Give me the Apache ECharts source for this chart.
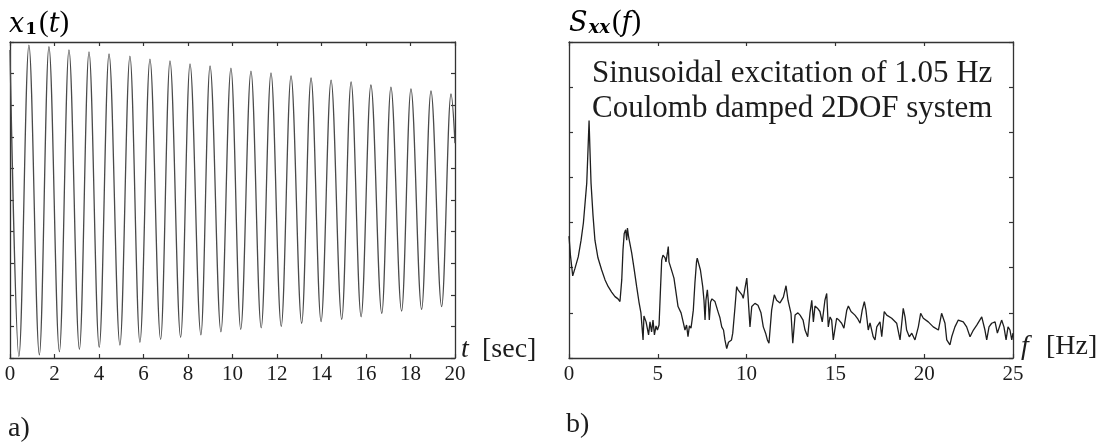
<!DOCTYPE html>
<html>
<head>
<meta charset="utf-8">
<script src="https://cdn.jsdelivr.net/npm/echarts@6/dist/echarts.min.js"></script>
<style>
html,body{margin:0;padding:0;background:#fff;}
#chart{width:1098px;height:446px;}
</style>
</head>
<body>
<div id="chart"></div>
<script>
// ---- Panel a) : x1(t), extrema (time in s, normalised displacement)
var x1Time = [0.00, 0.40, 0.85, 1.32, 1.75, 2.22, 2.65, 3.12, 3.55, 4.01, 4.45, 4.94, 5.39, 5.84, 6.29, 6.77, 7.19, 7.67, 8.09, 8.58, 8.99, 9.48, 9.93, 10.37, 10.83, 11.29, 11.73, 12.19, 12.63, 13.11, 13.53, 13.98, 14.43, 14.91, 15.33, 15.78, 16.22, 16.71, 17.12, 17.60, 18.02, 18.50, 18.92, 19.40, 19.82, 20.00];
var x1Value = [0.95, -0.99, 0.98, -0.98, 0.97, -0.96, 0.95, -0.945, 0.937, -0.932, 0.924, -0.918, 0.911, -0.901, 0.892, -0.882, 0.880, -0.869, 0.861, -0.854, 0.848, -0.834, 0.835, -0.818, 0.816, -0.809, 0.804, -0.80, 0.785, -0.780, 0.772, -0.770, 0.759, -0.755, 0.747, -0.739, 0.728, -0.717, 0.715, -0.703, 0.703, -0.692, 0.690, -0.675, 0.671, 0.36];
var timeTicks = {min: 0, max: 20, interval: 2};

// ---- Panel b) : S_xx(f) (frequency in Hz, level in axis units 0..7)
var sxxFreq = [0.00, 0.08, 0.21, 0.34, 0.52, 0.68, 0.81, 1.00, 1.07, 1.13, 1.18, 1.24, 1.35, 1.46, 1.63, 1.84, 2.03, 2.21, 2.40, 2.59, 2.76, 2.87, 2.97, 3.04, 3.11, 3.19, 3.25, 3.29, 3.35, 3.53, 3.66, 3.81, 3.94, 4.05, 4.17, 4.22, 4.34, 4.42, 4.48, 4.56, 4.65, 4.73, 4.81, 4.90, 4.98, 5.07, 5.15, 5.22, 5.29, 5.41, 5.46, 5.55, 5.59, 5.63, 5.74, 5.91, 6.14, 6.31, 6.44, 6.53, 6.62, 6.70, 6.78, 6.87, 6.93, 7.00, 7.09, 7.18, 7.22, 7.32, 7.40, 7.53, 7.60, 7.66, 7.71, 7.79, 7.84, 7.90, 7.97, 8.05, 8.22, 8.41, 8.50, 8.60, 8.70, 8.78, 8.88, 8.98, 9.07, 9.15, 9.22, 9.35, 9.44, 9.52, 9.63, 9.74, 9.81, 9.91, 10.01, 10.08, 10.19, 10.29, 10.47, 10.64, 10.81, 10.94, 11.07, 11.17, 11.26, 11.41, 11.56, 11.69, 11.88, 12.07, 12.22, 12.33, 12.50, 12.60, 12.73, 12.89, 13.01, 13.18, 13.29, 13.44, 13.57, 13.67, 13.76, 13.85, 14.02, 14.13, 14.26, 14.41, 14.51, 14.60, 14.70, 14.79, 14.88, 15.07, 15.20, 15.35, 15.48, 15.64, 15.73, 15.88, 16.10, 16.27, 16.39, 16.51, 16.63, 16.72, 16.85, 16.95, 17.13, 17.23, 17.33, 17.51, 17.61, 17.75, 17.89, 18.17, 18.45, 18.64, 18.82, 18.92, 19.01, 19.16, 19.30, 19.48, 19.67, 19.80, 19.95, 20.23, 20.51, 20.80, 20.98, 21.07, 21.17, 21.27, 21.45, 21.55, 21.73, 21.92, 22.20, 22.39, 22.58, 22.77, 22.96, 23.24, 23.42, 23.52, 23.65, 23.80, 23.99, 24.12, 24.27, 24.36, 24.49, 24.61, 24.72, 24.83, 24.93, 25.00];
var sxxLevel = [2.70, 2.28, 1.82, 1.99, 2.24, 2.61, 2.99, 3.88, 4.61, 5.26, 4.61, 3.88, 3.17, 2.61, 2.22, 1.95, 1.73, 1.58, 1.46, 1.36, 1.31, 1.25, 1.73, 2.39, 2.76, 2.84, 2.61, 2.88, 2.70, 2.33, 1.99, 1.58, 1.24, 1.00, 0.40, 0.93, 0.80, 0.84, 0.51, 0.80, 0.58, 0.84, 0.51, 0.71, 0.62, 0.73, 1.51, 2.17, 2.28, 2.22, 2.13, 2.35, 2.47, 2.13, 1.99, 1.77, 1.14, 1.00, 0.78, 0.62, 0.73, 0.47, 0.71, 0.66, 0.84, 1.06, 1.66, 2.13, 2.21, 2.17, 1.95, 1.58, 1.28, 0.84, 1.28, 1.51, 1.28, 0.84, 1.24, 1.31, 1.25, 1.00, 0.89, 0.69, 0.62, 0.40, 0.21, 0.35, 0.33, 0.40, 0.55, 1.14, 1.58, 1.51, 1.47, 1.40, 1.32, 1.55, 1.77, 1.37, 0.69, 1.14, 1.21, 1.17, 1.00, 0.69, 0.55, 0.40, 0.33, 1.06, 1.40, 1.28, 1.22, 1.35, 1.60, 1.28, 0.99, 0.33, 0.95, 1.00, 0.95, 0.84, 0.62, 0.47, 1.00, 1.28, 0.80, 1.15, 1.09, 1.03, 0.80, 1.28, 1.43, 0.69, 0.91, 0.84, 0.40, 0.88, 0.84, 0.77, 0.66, 1.06, 1.15, 1.03, 0.95, 0.86, 0.77, 1.06, 1.25, 1.06, 0.62, 0.78, 0.47, 0.40, 0.69, 0.80, 0.47, 1.03, 0.95, 0.88, 0.77, 0.40, 1.10, 0.91, 0.62, 0.47, 0.55, 0.40, 0.69, 0.99, 0.88, 0.80, 0.69, 0.62, 0.99, 1.03, 0.77, 0.40, 0.29, 0.47, 0.69, 0.84, 0.80, 0.69, 0.47, 0.62, 0.73, 0.91, 0.62, 0.40, 0.69, 0.77, 0.80, 0.55, 0.73, 0.84, 0.69, 0.40, 0.69, 0.62, 0.40, 0.55];
var freqTicks = {min: 0, max: 25, interval: 5};

// ---- Texts
var annotationLines = ['Sinusoidal excitation of 1.05 Hz', 'Coulomb damped 2DOF system'];
var axisNames = [['t', '[sec]'], ['f', '[Hz]']];
var panelLetters = ['a)', 'b)'];

var FONT = "'Liberation Serif', 'DejaVu Serif', serif";
var MATH = "'DejaVu Serif', 'Liberation Serif', serif";
var INK = '#1c1c1c';
var AX = '#333';

function zip(a, b) { var r = []; for (var i = 0; i < a.length; i++) r.push([a[i], b[i]]); return r; }

function xAx(grid, ticks, pos, showLabel) {
  return {
    gridIndex: grid, type: 'value', position: pos,
    min: ticks.min, max: ticks.max, interval: ticks.interval,
    axisLine: {show: true, onZero: false, lineStyle: {color: AX, width: 1.3}},
    axisTick: {show: true, inside: true, length: 4, lineStyle: {color: AX, width: 1.2}},
    axisLabel: {show: showLabel, fontFamily: FONT, fontSize: 21, color: INK, margin: 6},
    splitLine: {show: false}
  };
}
function yAx(grid, min, max, interval, pos) {
  return {
    gridIndex: grid, type: 'value', position: pos,
    min: min, max: max, interval: interval,
    axisLine: {show: true, onZero: false, lineStyle: {color: AX, width: 1.3}},
    axisTick: {show: true, inside: true, length: 4, lineStyle: {color: AX, width: 1.2}},
    axisLabel: {show: false},
    splitLine: {show: false}
  };
}

var chart = echarts.init(document.getElementById('chart'), null, {renderer: 'canvas'});

var mathRich = {
  i: {fontFamily: MATH, fontStyle: 'italic', fontSize: 27, color: INK, lineHeight: 30, verticalAlign: 'bottom'},
  r: {fontFamily: FONT, fontSize: 29, color: INK, lineHeight: 30, verticalAlign: 'bottom'},
  s: {fontFamily: MATH, fontWeight: 'bold', fontSize: 17, color: INK, lineHeight: 22, verticalAlign: 'bottom', padding: [0, 2, 0, 1]},
  si: {fontFamily: MATH, fontStyle: 'italic', fontWeight: 'bold', fontSize: 18, color: INK, lineHeight: 22, verticalAlign: 'bottom', padding: [0, 2, 0, 1]}
};

var option = {
  backgroundColor: '#ffffff',
  animation: false,
  grid: [
    {left: 10, top: 42, width: 445, height: 316},
    {left: 569, top: 42, width: 444, height: 316}
  ],
  xAxis: [
    xAx(0, timeTicks, 'bottom', true),
    xAx(0, timeTicks, 'top', false),
    xAx(1, freqTicks, 'bottom', true),
    xAx(1, freqTicks, 'top', false)
  ],
  yAxis: [
    yAx(0, -1, 1, 0.2, 'left'),
    yAx(0, -1, 1, 0.2, 'right'),
    yAx(1, 0, 7, 1, 'left'),
    yAx(1, 0, 7, 1, 'right')
  ],
  series: [
    {
      type: 'line', xAxisIndex: 0, yAxisIndex: 0,
      data: zip(x1Time, x1Value),
      smooth: 0.36, smoothMonotone: 'x',
      showSymbol: false, symbol: 'none',
      lineStyle: {color: '#4a4a4a', width: 1.3}
    },
    {
      type: 'line', xAxisIndex: 2, yAxisIndex: 2,
      data: zip(sxxFreq, sxxLevel),
      showSymbol: false, symbol: 'none',
      lineStyle: {color: '#1e1e1e', width: 1.3}
    }
  ],
  graphic: [
    {type: 'text', left: 9, top: 9, style: {text: '{i|x}{s|1}{r|(}{i|t}{r|)}', rich: mathRich}},
    {type: 'text', left: 569, top: 8, style: {text: '{i|S}{si|xx}{r|(}{i|f}{r|)}', rich: mathRich}},
    {type: 'text', left: 592, top: 58, style: {text: annotationLines[0], fontFamily: FONT, fontSize: 31, fill: INK}},
    {type: 'text', left: 592, top: 93, style: {text: annotationLines[1], fontFamily: FONT, fontSize: 31, fill: INK}},
    {type: 'text', left: 461, top: 336, style: {text: axisNames[0][0], fontFamily: FONT, fontStyle: 'italic', fontSize: 28, fill: INK}},
    {type: 'text', left: 482, top: 336, style: {text: axisNames[0][1], fontFamily: FONT, fontSize: 28, fill: INK}},
    {type: 'text', left: 1021, top: 333, style: {text: axisNames[1][0], fontFamily: FONT, fontStyle: 'italic', fontSize: 28, fill: INK}},
    {type: 'text', left: 1046, top: 333, style: {text: axisNames[1][1], fontFamily: FONT, fontSize: 28, fill: INK}},
    {type: 'text', left: 8, top: 415, style: {text: panelLetters[0], fontFamily: FONT, fontSize: 28, fill: INK}},
    {type: 'text', left: 566, top: 411, style: {text: panelLetters[1], fontFamily: FONT, fontSize: 28, fill: INK}}
  ]
};
chart.setOption(option);
</script>
</body>
</html>
